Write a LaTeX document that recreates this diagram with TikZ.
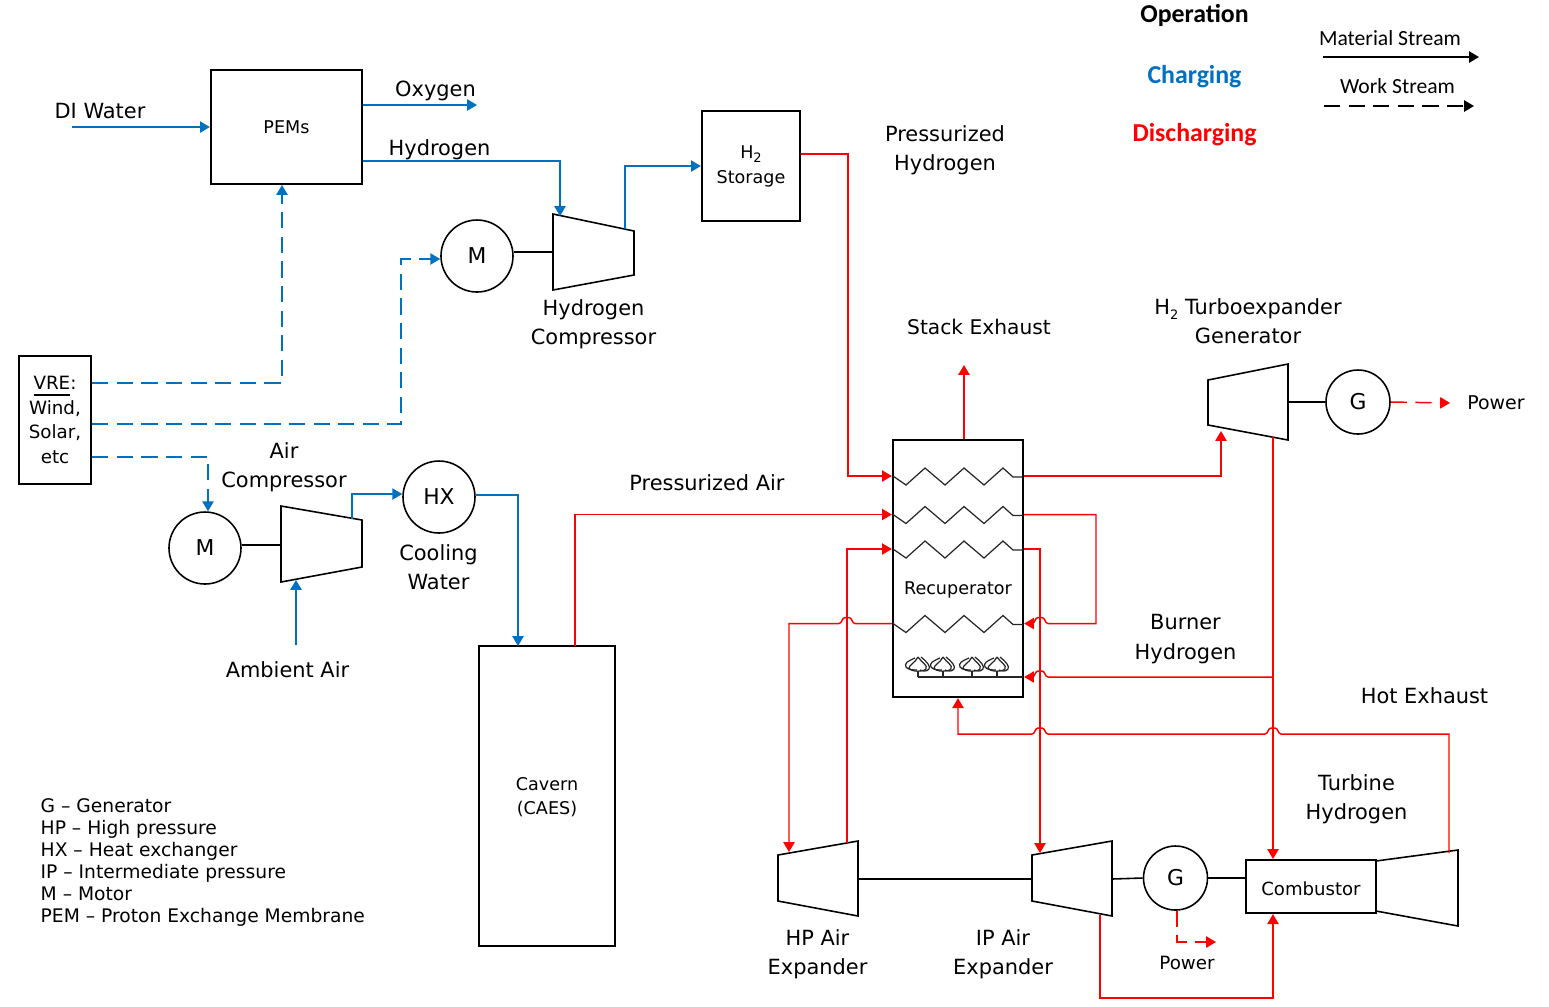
\documentclass[tikz,border=0pt]{standalone}
\usepackage{fontspec}
\setmainfont{DejaVu Sans}
\newfontfamily\legendfont{Carlito}
\usepackage{xcolor}
\usepackage{tikz}
\usetikzlibrary{arrows.meta,calc,positioning}
\definecolor{chargeblue}{HTML}{0070C0}
\definecolor{dischargered}{HTML}{FF0000}
\newcommand{\subtwo}{\raisebox{-.45ex}{\fontsize{3.7pt}{4pt}\selectfont 2}}
\tikzset{
	>={Triangle[length=2.8pt,width=3.2pt]},
	box/.style = {draw, line width=0.65pt, inner sep=0pt, align=center, font=\fontsize{5pt}{6.8pt}\selectfont},
	unit/.style = {circle, draw, line width=0.45pt, inner sep=0pt, font=\fontsize{6.2pt}{7pt}\selectfont},
	lab/.style = {inner sep=0pt, align=center, font=\fontsize{5.95pt}{8.3pt}\selectfont},
	small/.style = {inner sep=0pt, align=center, font=\fontsize{5pt}{6.8pt}\selectfont},
	note/.style = {inner sep=0pt, align=left, font=\fontsize{5.32pt}{6.27pt}\selectfont},
	leg/.style = {inner sep=0pt, font=\legendfont\fontsize{6.15pt}{7pt}\selectfont},
	head/.style = {inner sep=0pt, font=\legendfont\bfseries\fontsize{7.35pt}{8pt}\selectfont},
	turbo/.style = {draw, line width=0.45pt, fill=white},
	shaft/.style = {line width=0.45pt},
	coil/.style = {line width=0.35pt, black!85},
	chg/.style = {->, chargeblue, line width=0.42pt},
	dis/.style = {->, dischargered, line width=0.42pt},
	wrk/.style = {dash pattern=on 4.6pt off 2.4pt},
}
% wire hop on a run going right to left
\newcommand{\hopat}[2]{-- (#1+.08,#2) .. controls (#1+.05,#2) and (#1+.05,#2-.06) .. (#1+.02,#2-.06) -- (#1-.02,#2-.06) .. controls (#1-.05,#2-.06) and (#1-.05,#2) .. (#1-.08,#2)}
\begin{document}
\begin{tikzpicture}[x=1cm,y=-1cm]
    \useasboundingbox (0,0) rectangle (15.49,10.06);

    % boxes
    \node[box, minimum width=1.51cm, minimum height=1.14cm] (pem) at (2.865,1.27) {PEMs};
    \node[box, minimum width=0.98cm, minimum height=1.10cm] (storage) at (7.51,1.66) {};
    \node[box, minimum width=0.72cm, minimum height=1.28cm, font=\fontsize{5.2pt}{6.95pt}\selectfont] (vre) at (0.55,4.20) {\underline{VRE}:\\Wind,\\Solar,\\etc};
    \node[box, minimum width=1.30cm, minimum height=2.57cm] (recup) at (9.58,5.685) {};
    \node[box, minimum width=1.36cm, minimum height=3.00cm] (cavern) at (5.47,7.96) {};
    \node[box, minimum width=1.30cm, minimum height=0.53cm] (comb) at (13.11,8.865) {};
    \node[small] (lstore) at (7.51,1.665) {H\subtwo\\[.35pt]Storage};
    \node[small] (lcav) at (5.47,7.97) {Cavern\\(CAES)};
    \node[small, font=\fontsize{5.15pt}{6pt}\selectfont] (lcomb) at (13.11,8.885) {Combustor};
    \node[small] (recuplab) at (9.58,5.90) {Recuperator};

    % rotating machines
    \node[unit, minimum size=0.72cm] (motorh) at (4.77,2.56) {M};
    \node[unit, minimum size=0.72cm] (motora) at (2.05,5.48) {M};
    \node[unit, minimum size=0.72cm] (hx) at (4.39,4.97) {HX};
    \node[unit, minimum size=0.64cm] (gent) at (13.58,4.02) {G};
    \node[unit, minimum size=0.64cm] (genc) at (11.755,8.78) {G};

    \draw[turbo] (5.53,2.14) coordinate (hca) -- (6.34,2.31) coordinate (hcb) -- (6.34,2.75) -- (5.53,2.90) -- cycle;
    \draw[turbo] (2.81,5.06) coordinate (aca) -- (3.62,5.20) coordinate (acb) -- (3.62,5.67) -- (2.81,5.82) coordinate (acc) -- cycle;
    \draw[turbo] (7.78,8.55) -- (8.58,8.41) coordinate (hpb) -- (8.58,9.16) -- (7.78,9.01) -- cycle;
    \draw[turbo] (10.32,8.55) -- (11.12,8.41) -- (11.12,9.16) coordinate (ipb) -- (10.32,9.01) -- cycle;
    \draw[turbo] (12.08,3.80) -- (12.88,3.64) -- (12.88,4.40) -- (12.08,4.25) -- cycle;
    \draw[turbo] (13.76,8.61) -- (14.58,8.50) -- (14.58,9.26) -- (13.76,9.11) -- cycle;

    % shafts
    \draw[shaft] (motorh.east |- 0,2.52) -- (5.53,2.52);
    \draw[shaft] (motora.east |- 0,5.45) -- (2.81,5.45);
    \draw[shaft] (8.58,8.79) -- (10.32,8.79);
    \draw[shaft] (11.12,8.79) -- (genc.west);
    \draw[shaft] (genc.east) -- (comb.west |- genc.east);
    \draw[shaft] (12.88,4.02) -- (gent.west);

    % recuperator coils and burners
    \foreach \n/\y in {1/4.76,2/5.145,3/5.49,4/6.235} {
        \coordinate (c\n) at (9.58,\y);
        \draw[coil] (8.93,\y) -- ++(.13,.09) -- ++(.19,-.17) -- ++(.20,.17) -- ++(.19,-.17) -- ++(.20,.17) -- ++(.19,-.17) -- ++(.10,.09) -- ++(.10,0);
    }
    \coordinate (c5) at (9.58,6.77);
    \draw[coil] (9.18,6.77) -- (10.23,6.77);
    \foreach \x in {9.18,9.43,9.72,9.97} {
        \draw[coil] (\x,6.77) -- (\x,6.71);
        \draw[coil] (\x,6.57) .. controls (\x+.04,6.63) and (\x+.10,6.65) .. (\x+.08,6.69) .. controls (\x+.05,6.72) and (\x-.07,6.72) .. (\x-.09,6.68) .. controls (\x-.09,6.65) and (\x-.03,6.63) .. (\x,6.57);
        \draw[coil] (\x-.03,6.58) .. controls (\x-.10,6.61) and (\x-.14,6.63) .. (\x-.12,6.67) .. controls (\x-.10,6.70) and (\x-.04,6.70) .. (\x-.01,6.70);
        \draw[coil] (\x+.03,6.57) .. controls (\x+.08,6.61) and (\x+.13,6.66) .. (\x+.11,6.69) .. controls (\x+.09,6.72) and (\x+.04,6.71) .. (\x+.02,6.70);
    }

    % free ends
    \coordinate (diwater) at (0.72,1.27);
    \coordinate (oxyend) at (4.77,1.05);
    \coordinate (hydro) at (5.60,1.61);
    \coordinate (ambient) at (2.96,6.45);
    \coordinate (stack) at (9.64,3.65);
    \coordinate (powt) at (14.50,4.03);
    \coordinate (powc) at (12.16,9.42);

    % charging
    \draw[chg] (diwater) -- (pem.west);
    \draw[chg] (pem.east |- oxyend) -- (oxyend);
    \draw[chg] (pem.east |- hydro) -- (hydro) -- (5.60,2.16);
    \draw[chg] (6.25,2.29) -- (6.25,1.66) -- (storage.west);
    \draw[chg, wrk] (vre.east |- 0,3.83) -| (2.82,1.85);
    \draw[chg, wrk] (vre.east |- 0,4.24) -| (4.01,2.59) -- (motorh.west |- 0,2.59);
    \draw[chg, wrk] (vre.east |- 0,4.57) -| (motora.north -| 2.08,0);
    \draw[chg] (ambient) -- (2.96,5.80);
    \draw[chg] (3.52,5.19) -- (3.52,4.94) -- (hx.west |- 0,4.94);
    \draw[chg] (hx.east |- 0,4.95) -| (5.18,6.46);

    % discharging
    \draw[dis] (storage.east |- 0,1.54) -| (8.48,4.76) -- (recup.west |- c1);
    \draw[dis] (recup.north -| stack) -- (stack);
    \draw[dis] (recup.east |- c1) -| (12.21,4.31);
    \draw[dis] (12.73,4.37) -- (12.73,8.59);
    \draw[dis] (12.73,6.77) \hopat{10.40}{6.77} -- (recup.east |- c5);
    \draw[dis] (recup.east |- c2) -| (10.96,6.235) \hopat{10.40}{6.235} -- (recup.east |- c4);
    \draw[dis] (recup.east |- c3) -| (10.40,8.53);
    \draw[dis] (5.75,6.46) |- (recup.west |- c2);
    \draw[dis] (8.47,8.43) |- (recup.west |- c3);
    \draw[dis] (recup.west |- c4) \hopat{8.47}{6.235} -- (7.89,6.235) -- (7.89,8.52);
    \draw[dis] (14.49,8.53) -- (14.49,7.34) \hopat{12.73}{7.34} \hopat{10.40}{7.34} -- (9.58,7.34) -- (recup.south);
    \draw[dis] (11.00,9.15) -- (11.00,9.98) -| (comb.south -| 12.73,0);
    \draw[dis, wrk] (genc.south -| 11.77,0) |- (powc);
    \draw[dis, wrk] (gent.east) -- (powt);

    % labels
    \node[lab] (ldi) at (1.00,1.11) {DI Water};
    \node[lab] (loxy) at (4.355,0.905) {Oxygen};
    \node[lab] (lhyd) at (4.395,1.495) {Hydrogen};
    \node[lab] (lhc) at (5.935,3.24) {Hydrogen\\Compressor};
    \node[lab] (lac) at (2.84,4.67) {Air\\Compressor};
    \node[lab] (lcw) at (4.385,5.675) {Cooling\\Water};
    \node[lab] (lamb) at (2.875,6.695) {Ambient Air};
    \node[lab] (lpa) at (7.07,4.83) {Pressurized Air};
    \node[lab] (lph) at (9.45,1.50) {Pressurized\\Hydrogen};
    \node[lab, font=\fontsize{5.75pt}{8.3pt}\selectfont] (lstack) at (9.79,3.265) {Stack Exhaust};
    \node[lab] (ltg) at (12.48,3.21) {H\subtwo\ Turboexpander\\Generator};
    \node[lab, font=\fontsize{5.4pt}{6pt}\selectfont] (lpt) at (14.96,4.03) {Power};
    \node[lab] (lbh) at (11.855,6.39) {Burner\\Hydrogen};
    \node[lab] (lhot) at (14.245,6.955) {Hot Exhaust};
    \node[lab] (lth) at (13.565,7.99) {Turbine\\Hydrogen};
    \node[lab] (lhp) at (8.175,9.54) {HP Air\\Expander};
    \node[lab] (lip) at (10.03,9.54) {IP Air\\Expander};
    \node[lab, font=\fontsize{5.2pt}{6pt}\selectfont] (lpc) at (11.87,9.63) {Power};
    \node[note, anchor=north west] (lnotes) at (0.40,7.98) {G -- Generator\\HP -- High pressure\\HX -- Heat exchanger\\IP -- Intermediate pressure\\M -- Motor\\PEM -- Proton Exchange Membrane};

    % legend
    \node[head] (lop) at (11.945,0.15) {Operation};
    \node[head, text=chargeblue] (lch) at (11.945,0.765) {Charging};
    \node[head, text=dischargered] (ldis) at (11.945,1.345) {Discharging};
    \node[leg] (lmat) at (13.90,0.385) {Material Stream};
    \node[leg] (lwork) at (13.975,0.865) {Work Stream};
    \coordinate (mata) at (13.23,0.57);
    \coordinate (matb) at (14.79,0.57);
    \coordinate (worka) at (13.24,1.06);
    \coordinate (workb) at (14.74,1.06);
    \draw[->, line width=0.5pt] (mata) -- (matb);
    \draw[->, wrk, line width=0.5pt] (worka) -- (workb);
\end{tikzpicture}
\end{document}
